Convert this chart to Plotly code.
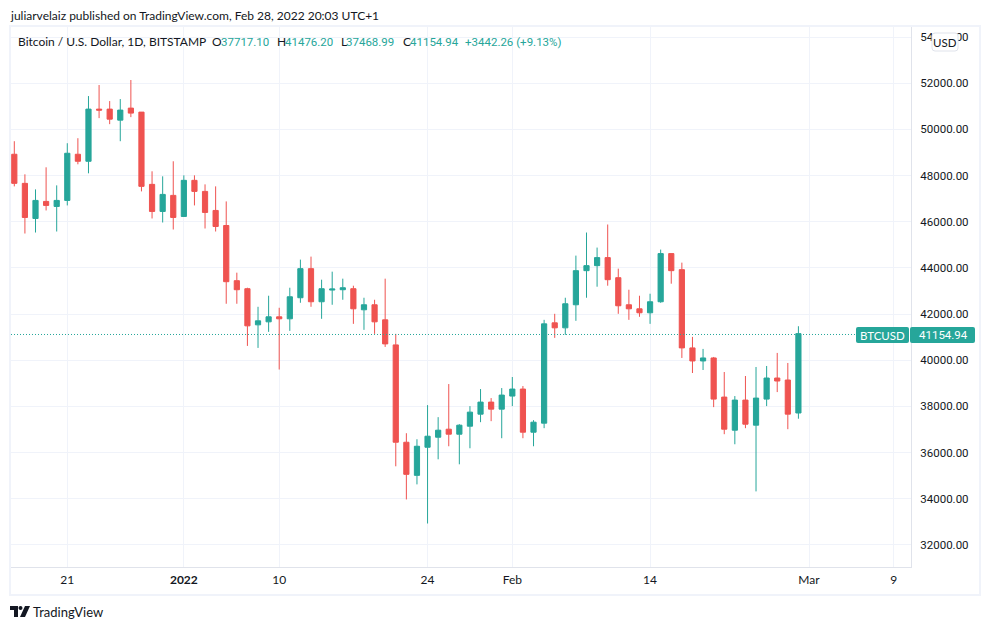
import pandas as pd
import plotly.graph_objects as go

dates = pd.date_range("2021-12-16", "2022-02-28", freq="D").strftime("%Y-%m-%d").tolist()

opens = [48926, 47665, 46144, 46883, 46665, 46926, 48926, 48622, 50882, 50882,
         50404, 50925, 50752, 47622, 46448, 47144, 46231, 47796, 47317, 46492,
         45839, 43449, 43101, 41536, 41666, 41884, 41797, 42710, 43970, 42536,
         43043, 43057, 43101, 42188, 42405, 41753, 40667, 36450, 35015, 36233,
         36667, 37015, 36798, 37145, 37667, 38189, 37884, 38450, 38754, 36885,
         37276, 41623, 41406, 42405, 43883, 44101, 44448, 43579, 42405, 42231,
         42058, 42536, 44622, 43927, 40536, 39971, 40101, 38406, 36972, 38276,
         37189, 38319, 39232, 39145, 37717.10]
highs = [49491, 48056, 47404, 48361, 47578, 49404, 49621, 51447, 51925, 51230,
         51317, 52143, 50752, 48187, 47970, 48622, 48013, 48013, 47622, 47535,
         46883, 43796, 43144, 42318, 42797, 42275, 43144, 44361, 44492, 43492,
         43840, 43536, 43231, 42710, 42623, 43536, 41145, 36841, 36580, 38058,
         37537, 38971, 37232, 38015, 38754, 38363, 38797, 39275, 38884, 37406,
         41753, 42014, 42710, 44535, 45535, 44883, 45883, 43970, 43057, 42797,
         42884, 44796, 44622, 44231, 41014, 40493, 40145, 39493, 38450, 39319,
         39710, 39754, 40319, 39884, 41476.20]
lows = [47535, 45492, 45535, 46492, 45579, 46709, 48491, 48100, 50491, 50230,
        49491, 50534, 47317, 46144, 45970, 45666, 46231, 46709, 45709, 45579,
        42449, 42449, 40623, 40536, 41232, 39600, 41275, 42492, 42318, 41797,
        42405, 42623, 41579, 41319, 41145, 40580, 35407, 33972, 34624, 32929,
        35711, 36276, 35494, 36189, 37319, 37363, 36624, 38015, 36624, 36276,
        37059, 40971, 41101, 41710, 42710, 43188, 43231, 42014, 41753, 41884,
        41579, 42492, 43318, 40101, 39449, 39580, 37971, 36798, 36363, 37059,
        34320, 38015, 38623, 37015, 37468.99]
closes = [47665, 46187, 46926, 46709, 46926, 48969, 48622, 50882, 50839, 50447,
          50839, 50708, 47535, 46448, 47187, 46187, 47796, 47317, 46405, 45796,
          43405, 43057, 41492, 41710, 41884, 41797, 42753, 43970, 42536, 43101,
          43086, 43144, 42231, 42405, 41666, 40710, 36450, 35059, 36276, 36711,
          36972, 36798, 37189, 37754, 38189, 37884, 38493, 38754, 36885, 37319,
          41579, 41406, 42449, 43883, 44101, 44448, 43492, 42362, 42231, 42058,
          42536, 44622, 43883, 40536, 39971, 40101, 38319, 37015, 38276, 37232,
          38363, 39232, 39102, 37667, 41154.94]

price_ticks = [32000, 34000, 36000, 38000, 40000, 42000, 44000, 46000, 48000, 50000, 52000, 54000]
date_ticks = ["2021-12-21", "2022-01-01", "2022-01-10", "2022-01-24", "2022-02-01", "2022-02-14", "2022-03-01", "2022-03-09"]
date_labels = ["21", "<b>2022</b>", "10", "24", "Feb", "14", "Mar", "9"]
last_price = 41154.94

GREEN = "#26a69a"
RED = "#ef5350"
GRID = "#f0f3fa"
AXIS = "#e0e3eb"
TEXT = "#131722"
FONT = "Lato"
NUM_FONT = "Roboto"

W, H = 990, 630
L, R, T, B = 11, 911, 27, 567


# chart furniture is placed in page pixels
def px(x):
    return (x - L) / (R - L)


def py(y):
    return (B - y) / (B - T)


def round_rect(x0, y0, x1, y1, r=2):
    a, b, c, d = px(x0), px(x1), py(y0), py(y1)
    rx, ry = r / (R - L), r / (B - T)
    return (f"M{a + rx},{c} L{b - rx},{c} Q{b},{c} {b},{c - ry} L{b},{d + ry} Q{b},{d} {b - rx},{d} "
            f"L{a + rx},{d} Q{a},{d} {a},{d + ry} L{a},{c - ry} Q{a},{c} {a + rx},{c} Z")


def label(x, y, text, color=TEXT, size=12, anchor="left", family=FONT):
    fig.add_annotation(x=px(x), y=py(y), xref="paper", yref="paper", text=text, showarrow=False,
                       xanchor=anchor, yanchor="middle", borderpad=0, borderwidth=0,
                       font=dict(family=family, size=size, color=color))


fig = go.Figure(go.Candlestick(
    x=dates, open=opens, high=highs, low=lows, close=closes,
    increasing=dict(line=dict(color=GREEN, width=1), fillcolor=GREEN),
    decreasing=dict(line=dict(color=RED, width=1), fillcolor=RED),
    whiskerwidth=0, showlegend=False, hoverinfo="skip",
))

fig.update_layout(
    width=W, height=H, autosize=False,
    margin=dict(l=L, r=W - R, t=T, b=H - B, pad=0),
    paper_bgcolor="white", plot_bgcolor="white",
    boxgap=0.3,
    font=dict(family=FONT, size=12, color=TEXT),
    xaxis=dict(
        type="date", range=["2021-12-15 16:30", "2022-03-10 15:00"], rangeslider=dict(visible=False),
        tickmode="array", tickvals=date_ticks, ticktext=date_labels, ticks="", tickangle=0,
        showgrid=True, gridcolor=GRID, gridwidth=1, zeroline=False,
        showline=True, linecolor=AXIS, linewidth=1, ticklabelstandoff=2,
        tickfont=dict(family=FONT, size=12, color=TEXT),
    ),
    yaxis=dict(
        side="right", range=[31045, 54439], tickmode="array", tickvals=price_ticks, tickformat=".2f",
        ticks="", showgrid=True, gridcolor=GRID, gridwidth=1, zeroline=False,
        showline=True, linecolor=AXIS, linewidth=1, ticklabelstandoff=6,
        tickfont=dict(family=NUM_FONT, size=11.5, color=TEXT),
    ),
)

# last price line, nudged onto a whole pixel row so the dots stay teal
fig.add_shape(type="line", xref="paper", x0=0, x1=1, yref="y", ysizemode="pixel", yanchor=last_price,
              y0=-0.86, y1=-0.86, line=dict(color=GREEN, width=1, dash="1px,2px"), layer="above")

# outer frame and price tags
fig.add_shape(type="rect", xref="paper", yref="paper", x0=px(10), x1=px(980), y0=py(595), y1=py(26),
              line=dict(color=GRID, width=2), layer="above")
fig.add_shape(type="path", xref="paper", yref="paper", path=round_rect(856, 327, 909, 343),
              fillcolor=GREEN, line=dict(width=0), layer="above")
fig.add_shape(type="path", xref="paper", yref="paper", path=round_rect(910, 327, 975, 343),
              fillcolor=GREEN, line=dict(width=0), layer="above")
fig.add_shape(type="path", xref="paper", yref="paper", path=round_rect(932, 33, 958, 51, 3),
              fillcolor="white", line=dict(color=AXIS, width=1), layer="above")

# TradingView logo
fig.add_shape(type="path", xref="paper", yref="paper", fillcolor=TEXT, line=dict(width=0), layer="above",
              path=f"M{px(10)},{py(606)} L{px(18)},{py(606)} L{px(18)},{py(617)} L{px(14)},{py(617)} "
                   f"L{px(14)},{py(610)} L{px(10)},{py(610)} Z")
fig.add_shape(type="circle", xref="paper", yref="paper", fillcolor=TEXT, line=dict(width=0), layer="above",
              x0=px(18.5), x1=px(22.5), y0=py(610), y1=py(606))
fig.add_shape(type="path", xref="paper", yref="paper", fillcolor=TEXT, line=dict(width=0), layer="above",
              path=f"M{px(25)},{py(606)} L{px(30)},{py(606)} L{px(25)},{py(617)} L{px(20)},{py(617)} Z")

label(10, 15, "juliarvelaiz published on TradingView.com, Feb 28, 2022 20:03 UTC+1", size=12)
label(18, 41.5, "Bitcoin / U.S. Dollar, 1D, BITSTAMP", size=12)
label(212, 41.5, "O", size=12)
label(220.5, 41.5, "37717.10", GREEN, 11.5, family=NUM_FONT)
label(277, 41.5, "H", size=12)
label(284.5, 41.5, "41476.20", GREEN, 11.5, family=NUM_FONT)
label(340.5, 41.5, "L", size=12)
label(346, 41.5, "37468.99", GREEN, 11.5, family=NUM_FONT)
label(402.5, 41.5, "C", size=12)
label(409.5, 41.5, "41154.94", GREEN, 11.5, family=NUM_FONT)
label(465, 41.5, "+3442.26 (+9.13%)", GREEN, 11.5, family=NUM_FONT)
label(945, 42, "USD", size=11.5, anchor="center")
label(882.5, 335, "BTCUSD", "white", 11.5, "center")
label(943, 335, f"{last_price:.2f}", "white", 11.5, "center", NUM_FONT)
label(33, 612, "TradingView", size=13)

fig.write_html("out.html", config={"displayModeBar": False}, post_script="document.body.style.margin='0';")
